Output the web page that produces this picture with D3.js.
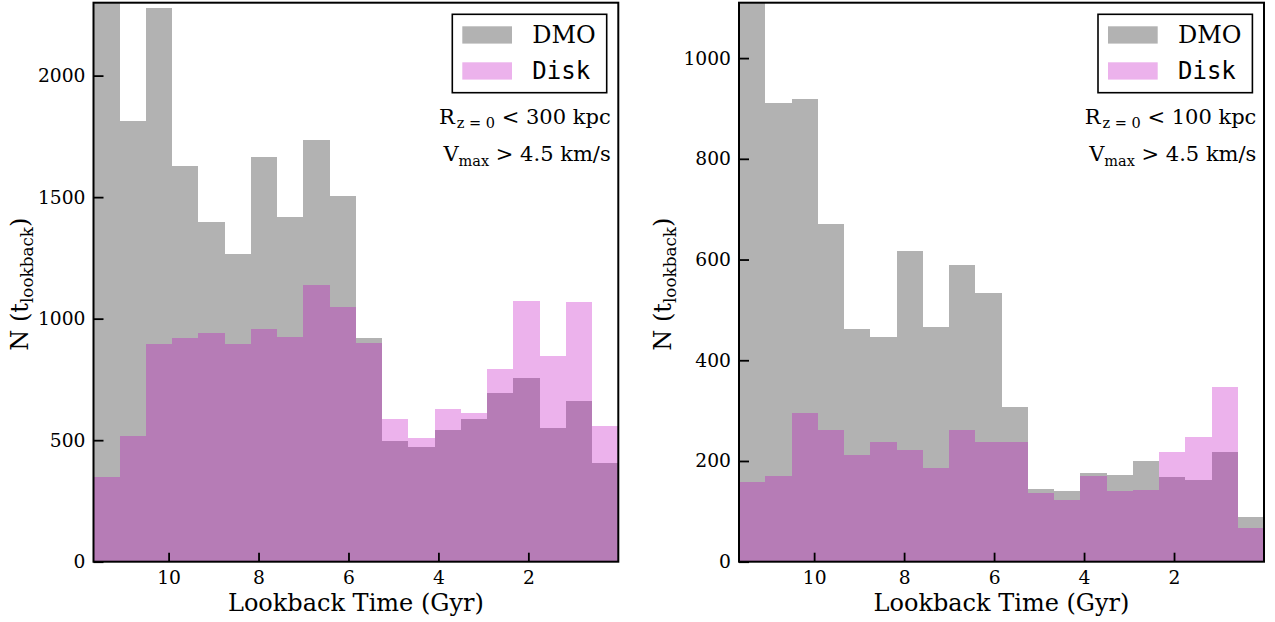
<!DOCTYPE html>
<html>
<head>
<meta charset="utf-8">
<script src="https://cdn.jsdelivr.net/npm/d3@7"></script>
<style>
  body { margin: 0; background: #fff; }
  svg { display: block; }
  text { font-family: "DejaVu Serif", serif; fill: #000; }
</style>
</head>
<body>
<svg id="chart" width="1275" height="622"></svg>
<script>
// ---- data ----
// bin edges in lookback time (Gyr), ordered left to right on the (reversed) axis
const binEdges = [11.67, 11.087, 10.503, 9.920, 9.336, 8.753, 8.169, 7.586, 7.002, 6.419,
                  5.835, 5.252, 4.668, 4.085, 3.501, 2.918, 2.334, 1.751, 1.167, 0.584, 0];
const xTicks = [10, 8, 6, 4, 2];

// Left panel: R(z=0) < 300 kpc
const dmo300  = [2400, 1815, 2280, 1630, 1399, 1266, 1667, 1420, 1737, 1506,
                 922, 495, 470, 542, 586, 696, 757, 551, 662, 407];
const disk300 = [350, 518, 895, 920, 939, 896, 958, 925, 1140, 1046,
                 899, 587, 511, 629, 611, 792, 1071, 847, 1070, 560];
const yTicks300 = [0, 500, 1000, 1500, 2000];
const yMax300 = 2300;

// Right panel: R(z=0) < 100 kpc
const dmo100  = [1150, 910, 918, 670, 462, 446, 616, 466, 589, 534,
                 307, 145, 140, 177, 172, 200, 168, 162, 217, 89];
const disk100 = [158, 171, 295, 262, 211, 238, 221, 187, 261, 237,
                 237, 137, 123, 171, 140, 142, 218, 248, 347, 67];
const yTicks100 = [0, 200, 400, 600, 800, 1000];
const yMax100 = 1110;

const seriesNames = ["DMO", "Disk"];
const seriesColors = ["#000000", "#bf00bf"];
const seriesAlpha = 0.3;

// ---- drawing ----
const svg = d3.select("#chart");
svg.append("rect").attr("width", 1275).attr("height", 622).attr("fill", "#fff");

function drawPanel(opt) {
  const w = opt.x1 - opt.x0, h = opt.y1 - opt.y0;
  const g = svg.append("g").attr("transform", `translate(${opt.x0},${opt.y0})`);
  const x = d3.scaleLinear().domain([binEdges[0], binEdges[binEdges.length - 1]]).range([0, w]);
  const y = d3.scaleLinear().domain([0, opt.yMax]).range([h, 0]);

  const clipId = "clip" + opt.id;
  g.append("clipPath").attr("id", clipId)
    .append("rect").attr("width", w).attr("height", h);

  const plot = g.append("g").attr("clip-path", `url(#${clipId})`);
  [opt.dmo, opt.disk].forEach((vals, si) => {
    plot.append("g").selectAll("rect").data(vals).join("rect")
      .attr("x", (d, i) => x(binEdges[i]))
      .attr("width", (d, i) => x(binEdges[i + 1]) - x(binEdges[i]))
      .attr("y", d => y(d))
      .attr("height", d => y(0) - y(d))
      .attr("fill", seriesColors[si])
      .attr("fill-opacity", seriesAlpha)
      .attr("shape-rendering", "crispEdges");
  });

  // axes
  const xAxis = d3.axisBottom(x).tickValues(xTicks).tickSizeInner(-9).tickSizeOuter(0).tickPadding(9)
    .tickFormat(d3.format("d"));
  const gx = g.append("g").attr("transform", `translate(0,${h})`).call(xAxis);
  const yAxis = d3.axisLeft(y).tickValues(opt.yTicks).tickSizeInner(-10).tickSizeOuter(0).tickPadding(8)
    .tickFormat(d3.format("d"));
  const gy = g.append("g").call(yAxis);
  [gx, gy].forEach(a => {
    a.select(".domain").remove();
    a.selectAll(".tick line").attr("stroke", "#000").attr("stroke-width", 1.8);
    a.selectAll(".tick text").style("font-family", "DejaVu Serif").style("font-size", "18.7px")
      .attr("fill", "#000");
  });

  // frame
  g.append("rect").attr("width", w).attr("height", h)
    .attr("fill", "none").attr("stroke", "#000").attr("stroke-width", 2);

  // x label
  g.append("text").attr("x", w / 2).attr("y", h + 49)
    .attr("text-anchor", "middle").style("font-size", "24px")
    .text("Lookback Time (Gyr)");

  // y label
  const yl = g.append("text")
    .attr("transform", `translate(${opt.ylabX},${h / 2 + 2}) rotate(-90)`)
    .attr("text-anchor", "middle").style("font-size", "24px");
  yl.append("tspan").text("N (t");
  yl.append("tspan").attr("dy", 5).style("font-size", "16.8px").text("lookback");
  yl.append("tspan").attr("dy", -5).text(")");

  // legend
  const lg = g.append("g").attr("transform", `translate(${w - 166},${11.6})`);
  lg.append("rect").attr("width", 154.4).attr("height", 78.4)
    .attr("fill", "#fff").attr("stroke", "#000").attr("stroke-width", 1.6);
  seriesNames.forEach((name, i) => {
    lg.append("rect").attr("x", 10).attr("y", 12 + i * 36).attr("width", 49.7).attr("height", 17.3)
      .attr("fill", seriesColors[i]).attr("fill-opacity", seriesAlpha);
    lg.append("text").attr("x", 80).attr("y", 29 + i * 36)
      .style("font-family", i === 0 ? "DejaVu Serif" : "DejaVu Sans Mono")
      .style("font-size", "24px").text(name);
  });

  // annotation
  const ax = w - 7.6;
  const t1 = g.append("text").attr("x", ax).attr("y", 121.3).attr("text-anchor", "end")
    .style("font-size", "21px");
  t1.append("tspan").text("R");
  t1.append("tspan").attr("dx", 2).attr("dy", 4).style("font-size", "14.5px").text("z = 0");
  t1.append("tspan").attr("dy", -4).text(" < " + opt.rmax + " kpc");

  const t2 = g.append("text").attr("x", ax).attr("y", 158.3).attr("text-anchor", "end")
    .style("font-size", "21px");
  t2.append("tspan").text("V");
  t2.append("tspan").attr("dy", 5).style("font-size", "14.5px").text("max");
  t2.append("tspan").attr("dy", -5).text(" > 4.5 km/s");
}

drawPanel({ id: "L", x0: 93.5, x1: 618.3, y0: 2.7, y1: 561.7, dmo: dmo300, disk: disk300,
            yTicks: yTicks300, yMax: yMax300, rmax: 300, ylabX: -65.5 });
drawPanel({ id: "R", x0: 739, x1: 1264, y0: 2.7, y1: 561.7, dmo: dmo100, disk: disk100,
            yTicks: yTicks100, yMax: yMax100, rmax: 100, ylabX: -68.3 });
</script>
</body>
</html>
